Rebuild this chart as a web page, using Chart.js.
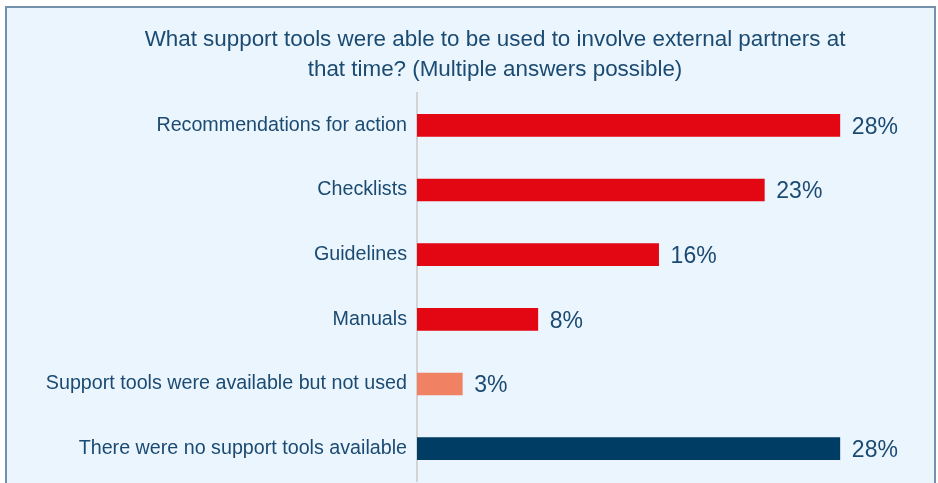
<!DOCTYPE html>
<html>
<head>
<meta charset="utf-8">
<script src="https://cdn.jsdelivr.net/npm/chart.js@4"></script>
<style>
    html, body { margin: 0; padding: 0; background: #ffffff; overflow: hidden; }
    #frame {
        position: absolute; left: 5px; top: 6px; width: 927px; height: 490px;
        border: 2px solid #7391ad; background: #eaf5fd;
    }
    #wrap { position: absolute; left: 0; top: 0; width: 938px; height: 483px; }
</style>
</head>
<body>
<div id="frame"></div>
<div id="wrap"><canvas id="chart"></canvas></div>
<script>
// Datos del gráfico
const categories = [
    'Recommendations for action',
    'Checklists',
    'Guidelines',
    'Manuals',
    'Support tools were available but not used',
    'There were no support tools available'
];
const values = [28, 23, 16, 8, 3, 28];
const barColors = ['#e30613', '#e30613', '#e30613', '#e30613', '#f08263', '#003d64'];
const titleLines = [
    'What support tools were able to be used to involve external partners at',
    'that time? (Multiple answers possible)'
];

const textColor = '#1b4a72';
const fontFamily = '"Liberation Sans", Arial, Helvetica, sans-serif';

/**
 * Dibuja el título centrado sobre el recuadro
 */
const titleText = {
    id: 'titleText',
    afterDraw(chart) {
        const ctx = chart.ctx;
        ctx.save();
        ctx.font = '22.4px ' + fontFamily;
        ctx.fillStyle = textColor;
        ctx.textAlign = 'center';
        ctx.textBaseline = 'middle';
        titleLines.forEach((line, i) => {
            ctx.fillText(line, 495, 40 + i * 30);
        });
        ctx.restore();
    }
};

/**
 * Dibuja las etiquetas de porcentaje al final de cada barra
 */
const valueLabels = {
    id: 'valueLabels',
    afterDatasetsDraw(chart) {
        const ctx = chart.ctx;
        const meta = chart.getDatasetMeta(0);
        ctx.save();
        ctx.font = '23px ' + fontFamily;
        ctx.fillStyle = textColor;
        ctx.textAlign = 'left';
        ctx.textBaseline = 'middle';
        meta.data.forEach((bar, i) => {
            ctx.fillText(values[i] + '%', bar.x + 12, bar.y + 2);
        });
        ctx.restore();
    }
};

new Chart(document.getElementById('chart'), {
    type: 'bar',
    data: {
        labels: categories,
        datasets: [{
            data: values,
            backgroundColor: barColors,
            borderWidth: 0,
            barThickness: 22
        }]
    },
    options: {
        indexAxis: 'y',
        responsive: true,
        maintainAspectRatio: false,
        animation: false,
        layout: { padding: { left: 0, right: 0, top: 93, bottom: 2 } },
        scales: {
            x: {
                display: false,
                min: 0,
                max: 34.5
            },
            y: {
                afterFit(scale) {
                    scale.width = 417;
                    scale.paddingTop = 0;
                    scale.paddingBottom = 0;
                },
                grid: { display: false, drawTicks: false },
                border: { display: true, color: '#d3d3d3', width: 2 },
                ticks: {
                    color: textColor,
                    padding: 10,
                    font: { family: fontFamily, size: 19.7 }
                }
            }
        },
        plugins: {
            legend: { display: false },
            tooltip: { enabled: false },
            title: { display: false }
        }
    },
    plugins: [valueLabels, titleText]
});
</script>
</body>
</html>
